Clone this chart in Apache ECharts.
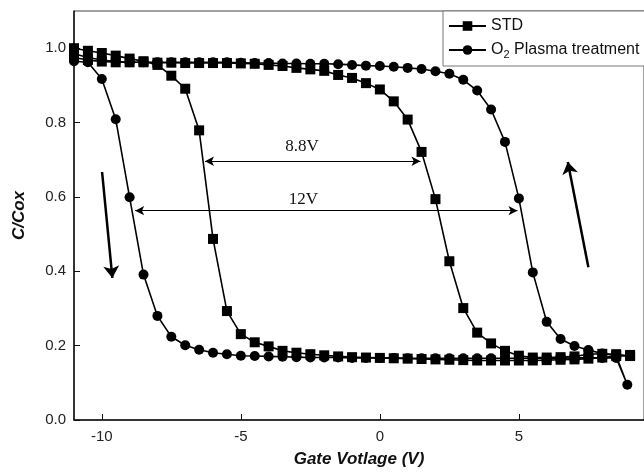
<!DOCTYPE html>
<html>
<head>
<meta charset="utf-8">
<script src="https://cdn.jsdelivr.net/npm/echarts@6/dist/echarts.min.js"></script>
<style>
html,body{margin:0;padding:0;background:#fff}
#chart{width:644px;height:473px}
</style>
</head>
<body>
<div id="chart"></div>
<script>
// gate voltage steps (V)
var gateV = [-11,-10.5,-10,-9.5,-9,-8.5,-8,-7.5,-7,-6.5,-6,-5.5,-5,-4.5,-4,-3.5,-3,-2.5,-2,-1.5,
             -1,-0.5,0,0.5,1,1.5,2,2.5,3,3.5,4,4.5,5,5.5,6,6.5,7,7.5,8,8.5,9];

// STD, branch that falls near -6 V
var stdLeft = [1.000,0.993,0.987,0.980,0.972,0.965,0.955,0.926,0.891,0.779,0.487,0.293,0.231,0.209,0.198,0.186,0.181,0.177,0.174,0.171,
               0.169,0.168,0.167,0.166,0.165,0.164,0.163,0.162,0.161,0.160,0.160,0.160,0.160,0.160,0.161,0.162,0.163,0.165,0.168,0.172,0.172];
// STD, branch that falls near +2 V
var stdRight = [0.975,0.968,0.964,0.962,0.962,0.962,0.961,0.961,0.960,0.960,0.960,0.960,0.959,0.958,0.955,0.952,0.947,0.943,0.939,0.928,
                0.920,0.906,0.889,0.857,0.808,0.721,0.594,0.427,0.301,0.235,0.206,0.186,0.173,0.168,0.168,0.169,0.171,0.177,0.178,0.177,0.175];

// O2 plasma, branch that rises near +5 V (-11 .. 8.5 V)
var o2Right = [0.985,0.975,0.968,0.964,0.962,0.962,0.962,0.962,0.962,0.962,0.962,0.962,0.961,0.960,0.960,0.959,0.959,0.958,0.958,0.957,
               0.955,0.953,0.952,0.950,0.947,0.944,0.938,0.931,0.915,0.886,0.835,0.748,0.596,0.397,0.264,0.218,0.199,0.188,0.179,0.173];
// O2 plasma, branch that falls near -9 V (-11 .. 8.5 V)
var o2Left = [0.965,0.962,0.917,0.809,0.599,0.391,0.280,0.224,0.201,0.189,0.181,0.177,0.173,0.172,0.171,0.170,0.169,0.168,0.168,0.168,
              0.167,0.167,0.167,0.167,0.166,0.166,0.166,0.166,0.166,0.166,0.166,0.166,0.166,0.166,0.166,0.166,0.167,0.167,0.167,0.167];
var o2Turn = [8.9, 0.095];

var xTicks = [-10, -5, 0, 5];
var yTicks = [0, 0.2, 0.4, 0.6, 0.8, 1.0];

// annotations
var shiftArrows = [
  {from: [-6.29, 0.696], to: [1.46, 0.696]},
  {from: [-8.8, 0.563], to: [4.95, 0.563]}
];
var shiftLabels = [
  {name: '8.8V', coord: [-2.8, 0.735]},
  {name: '12V', coord: [-2.75, 0.592]}
];
var sweepArrows = [
  {from: [-9.99, 0.667], to: [-9.62, 0.382]},
  {from: [7.50, 0.411], to: [6.76, 0.694]}
];

function makeLoop(first, second, turn) {
  var pts = [];
  for (var i = 0; i < first.length; i++) pts.push([gateV[i], first[i]]);
  if (turn) pts.push(turn);
  for (var j = second.length - 1; j >= 0; j--) pts.push([gateV[j], second[j]]);
  return pts;
}

var stdData = makeLoop(stdLeft, stdRight, null);
var o2Data = makeLoop(o2Right, o2Left, o2Turn);

var font = 'Liberation Sans, Arial, sans-serif';

var option = {
  animation: false,
  backgroundColor: '#fff',
  grid: {
    left: 74, right: -16, top: 11, bottom: 52,
    show: true, borderColor: '#444', borderWidth: 1
  },
  legend: {
    data: ['STD', 'O2 Plasma treatment'],
    orient: 'vertical',
    left: 443, top: 11,
    backgroundColor: '#fff',
    borderColor: '#777', borderWidth: 1,
    padding: [7, 10, 6, 5],
    itemGap: 8, itemWidth: 37, itemHeight: 12,
    textStyle: {
      fontFamily: font, fontSize: 16, color: '#111',
      rich: {
        n: {fontFamily: font, fontSize: 16, color: '#111'},
        s: {fontFamily: font, fontSize: 11, color: '#111', padding: [9, 0, 0, 0]}
      }
    },
    formatter: function (name) {
      if (name === 'O2 Plasma treatment') return '{n|O}{s|2}{n| Plasma treatment}';
      return name;
    }
  },
  xAxis: {
    type: 'value',
    min: -11, max: 9.5,
    name: 'Gate Votlage (V)',
    nameLocation: 'middle', nameGap: 31,
    nameTextStyle: {fontFamily: font, fontSize: 17, fontWeight: 'bold', fontStyle: 'italic', color: '#111'},
    axisLine: {onZero: false, lineStyle: {color: '#111', width: 1.5}},
    axisTick: {inside: true, length: 6, customValues: xTicks, lineStyle: {color: '#111'}},
    axisLabel: {customValues: xTicks, fontFamily: font, fontSize: 15, color: '#222', margin: 9},
    splitLine: {show: false}
  },
  yAxis: {
    type: 'value',
    min: 0, max: 1.1,
    name: 'C/Cox',
    nameLocation: 'middle', nameGap: 46,
    nameTextStyle: {fontFamily: font, fontSize: 17, fontWeight: 'bold', fontStyle: 'italic', color: '#111'},
    axisLine: {show: true, onZero: false, lineStyle: {color: '#111', width: 1.5}},
    axisTick: {show: true, inside: true, length: 6, customValues: yTicks, lineStyle: {color: '#111'}},
    axisLabel: {
      customValues: yTicks, fontFamily: font, fontSize: 15, color: '#222', margin: 8,
      formatter: function (v) { return v.toFixed(1); }
    },
    splitLine: {show: false}
  },
  series: [
    {
      name: 'STD',
      type: 'line',
      data: stdData,
      symbol: 'rect', symbolSize: 10,
      showAllSymbol: true,
      itemStyle: {color: '#000'},
      lineStyle: {color: '#000', width: 1.6},
      markLine: {
        silent: true,
        symbol: ['arrow', 'arrow'], symbolSize: [7, 9],
        label: {show: false},
        lineStyle: {color: '#000', width: 1.2, type: 'solid'},
        data: shiftArrows.map(function (a) { return [{coord: a.from}, {coord: a.to}]; })
      },
      markPoint: {
        silent: true,
        symbol: 'rect', symbolSize: 1,
        itemStyle: {color: 'transparent'},
        label: {
          show: true, position: 'inside', formatter: '{b}',
          fontFamily: 'Liberation Serif, Times New Roman, serif', fontSize: 17, color: '#111'
        },
        data: shiftLabels.map(function (l) { return {name: l.name, coord: l.coord}; })
      }
    },
    {
      name: 'O2 Plasma treatment',
      type: 'line',
      data: o2Data,
      symbol: 'circle', symbolSize: 10,
      showAllSymbol: true,
      itemStyle: {color: '#000'},
      lineStyle: {color: '#000', width: 1.6},
      markLine: {
        silent: true,
        symbol: ['none', 'arrow'], symbolSize: 12,
        label: {show: false},
        lineStyle: {color: '#000', width: 2.5, type: 'solid'},
        data: sweepArrows.map(function (a) { return [{coord: a.from}, {coord: a.to}]; })
      }
    }
  ]
};

var chart = echarts.init(document.getElementById('chart'));
chart.setOption(option);
</script>
</body>
</html>
